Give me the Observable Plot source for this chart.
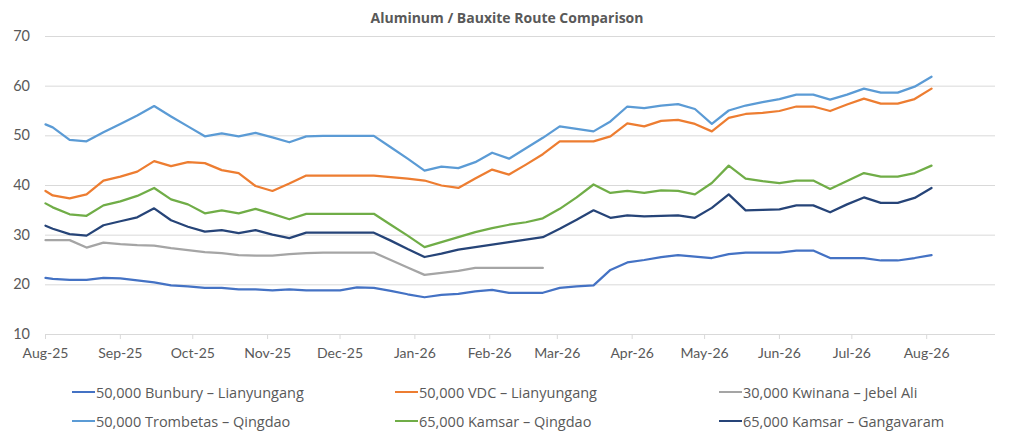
<!DOCTYPE html>
<html>
<head>
<meta charset="utf-8">
<script src="https://cdn.jsdelivr.net/npm/d3@7"></script>
<script src="https://cdn.jsdelivr.net/npm/@observablehq/plot@0.6"></script>
<style>
  html, body { margin: 0; padding: 0; background: #fff; }
  body { width: 1024px; height: 437px; overflow: hidden; font-family: Lato, "Open Sans", sans-serif; }
  #title { height: 28px; box-sizing: border-box; padding-top: 8px; line-height: 20px; text-align: center;
           font-family: "Open Sans", Lato, sans-serif; font-weight: bold; font-size: 14px; color: #595959; padding-right: 10px; }
  #chart svg { display: block; }
  #legend { position: relative; height: 62px; font-family: "Open Sans", Lato, sans-serif; font-size: 14.5px; color: #595959; }
  .item { position: absolute; display: flex; align-items: center; height: 20px; white-space: nowrap; }
  .sw { width: 23px; height: 2.5px; margin-right: 1px; }
</style>
</head>
<body>
<div id="title">Aluminum / Bauxite Route Comparison</div>
<div id="chart"></div>
<div id="legend"></div>
<script>
const dates = [
  "2025-08-01","2025-08-04","2025-08-11","2025-08-18","2025-08-25",
  "2025-09-01","2025-09-08","2025-09-15","2025-09-22","2025-09-29",
  "2025-10-06","2025-10-13","2025-10-20","2025-10-27",
  "2025-11-03","2025-11-10","2025-11-17","2025-11-24",
  "2025-12-01","2025-12-08","2025-12-15","2025-12-22","2025-12-29",
  "2026-01-05","2026-01-12","2026-01-19","2026-01-26",
  "2026-02-02","2026-02-09","2026-02-16","2026-02-23",
  "2026-03-02","2026-03-09","2026-03-16","2026-03-23","2026-03-30",
  "2026-04-06","2026-04-13","2026-04-20","2026-04-27",
  "2026-05-04","2026-05-11","2026-05-18","2026-05-25",
  "2026-06-01","2026-06-08","2026-06-15","2026-06-22","2026-06-29",
  "2026-07-06","2026-07-13","2026-07-20","2026-07-27","2026-08-03"
];

const bunbury = [21.4,21.2,21.0,21.0,21.4,21.3,20.9,20.5,19.9,19.7,
  19.4,19.4,19.1,19.1,18.9,19.1,18.9,18.9,18.9,19.5,
  19.4,18.8,18.1,17.5,18.0,18.2,18.7,19.0,18.4,18.4,
  18.4,19.4,19.7,19.9,23.0,24.5,25.0,25.6,26.0,25.7,
  25.4,26.2,26.5,26.5,26.5,26.9,26.9,25.4,25.4,25.4,
  24.9,24.9,25.4,26.0];

const vdc = [38.9,38.0,37.4,38.2,41.0,41.8,42.8,44.9,43.9,44.7,
  44.5,43.1,42.5,39.9,38.9,40.4,42.0,42.0,42.0,42.0,
  42.0,41.7,41.4,41.0,40.0,39.5,41.4,43.2,42.2,44.2,
  46.3,48.9,48.9,48.9,49.9,52.5,51.9,53.0,53.2,52.4,
  50.9,53.6,54.4,54.6,55.0,55.9,55.9,55.0,56.3,57.5,
  56.5,56.5,57.4,59.5];

const kwinana = [29.0,29.0,29.0,27.5,28.5,28.2,28.0,27.9,27.4,27.0,
  26.6,26.4,26.0,25.9,25.9,26.2,26.4,26.5,26.5,26.5,
  26.5,25.0,23.5,22.0,22.4,22.8,23.4,23.4,23.4,23.4,
  23.4];

const trombetas = [52.3,51.7,49.2,48.9,50.7,52.4,54.1,56.0,53.9,51.9,
  49.9,50.5,49.9,50.6,49.7,48.7,49.9,50.0,50.0,50.0,
  50.0,47.7,45.4,43.0,43.8,43.5,44.7,46.6,45.4,47.5,
  49.6,51.9,51.4,50.9,52.9,55.9,55.6,56.1,56.4,55.4,
  52.4,55.1,56.1,56.8,57.4,58.3,58.3,57.3,58.3,59.5,
  58.7,58.7,59.9,61.9];

const kamsarQingdao = [36.4,35.6,34.2,33.9,36.0,36.8,37.9,39.5,37.2,36.2,
  34.4,35.0,34.4,35.3,34.3,33.2,34.3,34.3,34.3,34.3,
  34.3,32.1,29.9,27.6,28.6,29.6,30.6,31.4,32.1,32.6,
  33.4,35.3,37.6,40.2,38.5,38.9,38.5,39.0,38.9,38.2,
  40.5,44.0,41.4,40.9,40.5,41.0,41.0,39.3,40.9,42.5,
  41.8,41.8,42.5,44.0];

const kamsarGangavaram = [31.9,31.3,30.2,29.9,32.0,32.8,33.6,35.4,33.0,31.7,
  30.7,31.0,30.4,31.0,30.1,29.4,30.5,30.5,30.5,30.5,
  30.5,28.9,27.2,25.6,26.3,27.1,27.6,28.1,28.6,29.1,
  29.6,31.3,33.1,35.0,33.5,34.0,33.8,33.9,34.0,33.5,
  35.5,38.2,35.0,35.1,35.2,36.0,36.0,34.6,36.2,37.6,
  36.5,36.5,37.5,39.5];

const seriesNames = [
  "50,000 Bunbury – Lianyungang",
  "50,000 VDC – Lianyungang",
  "30,000 Kwinana – Jebel Ali",
  "50,000 Trombetas – Qingdao",
  "65,000 Kamsar – Qingdao",
  "65,000 Kamsar – Gangavaram"
];
const seriesColors = ["#4472C4","#ED7D31","#A5A5A5","#5B9BD5","#70AD47","#264478"];
const seriesValues = [bunbury, vdc, kwinana, trombetas, kamsarQingdao, kamsarGangavaram];

const yTicks = [10,20,30,40,50,60,70];
const monthTicks = ["2025-08-01","2025-09-01","2025-10-01","2025-11-01","2025-12-01",
  "2026-01-01","2026-02-01","2026-03-01","2026-04-01","2026-05-01","2026-06-01",
  "2026-07-01","2026-08-01"];
const xDomain = ["2025-08-01","2026-08-29T12:00"];

const rows = [];
seriesValues.forEach((vals, s) => {
  vals.forEach((v, i) => rows.push({date: new Date(dates[i]), value: v, series: seriesNames[s]}));
});
const monthDates = monthTicks.map(d => new Date(d));
const fmt = d3.utcFormat("%b-%y");
const font = "Lato, 'Open Sans', sans-serif";

const chart = Plot.plot({
  width: 1024,
  height: 347,
  marginLeft: 45,
  marginRight: 29,
  marginTop: 8,
  marginBottom: 41,
  style: {fontFamily: font, background: "transparent"},
  x: {type: "utc", domain: xDomain.map(d => new Date(d))},
  y: {domain: [10, 70]},
  color: {domain: seriesNames, range: seriesColors},
  marks: [
    Plot.gridY(yTicks.filter(t => t > 10), {stroke: "#d9d9d9", strokeOpacity: 1}),
    Plot.ruleY([10], {stroke: "#d9d9d9"}),
    Plot.axisX(monthDates, {text: null, tickSize: 5, stroke: "#d9d9d9", strokeOpacity: 1}),
    Plot.axisX(monthDates, {tickSize: 0, tickPadding: 13.5, tickFormat: fmt, fill: "#595959", fontSize: 14, fontFamily: font, label: null}),
    Plot.axisY(yTicks, {tickSize: 0, tickPadding: 15.5, fill: "#595959", fontSize: 14.5, fontFamily: font, label: null}),
    Plot.line(rows, {x: "date", y: "value", z: "series", stroke: "series", strokeWidth: 2.25, strokeLinejoin: "round"})
  ]
});
document.getElementById("chart").appendChild(chart);

const legend = document.getElementById("legend");
const colX = [72, 395, 719];
const rowY = [7, 36];
seriesNames.forEach((name, i) => {
  const it = document.createElement("div");
  it.className = "item";
  it.style.left = colX[i % 3] + "px";
  it.style.top = rowY[Math.floor(i / 3)] + "px";
  const sw = document.createElement("span");
  sw.className = "sw";
  sw.style.background = seriesColors[i];
  const tx = document.createElement("span");
  tx.textContent = name;
  it.appendChild(sw);
  it.appendChild(tx);
  legend.appendChild(it);
});
</script>
</body>
</html>
